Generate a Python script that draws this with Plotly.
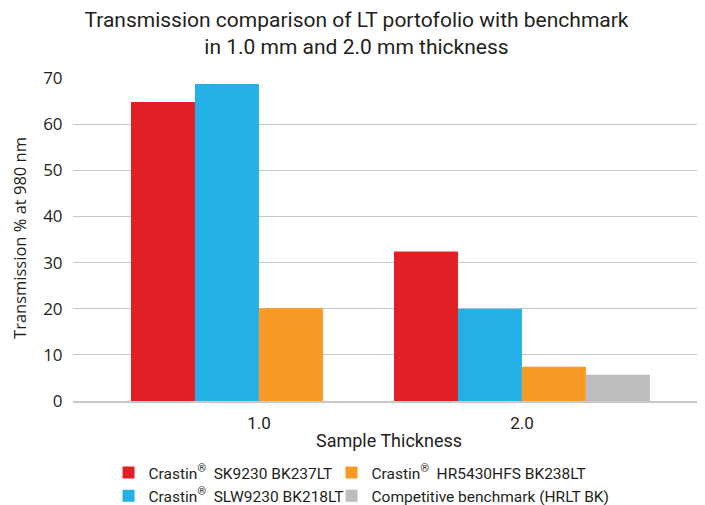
import plotly.graph_objects as go

categories = ["1.0", "2.0"]
series_names = [
    "Crastin<sup>®</sup>  SK9230 BK237LT",
    "Crastin<sup>®</sup>  SLW9230 BK218LT",
    "Crastin<sup>®</sup>  HR5430HFS BK238LT",
    "Competitive benchmark (HRLT BK)",
]
sk9230 = [64.8, 32.4]
slw9230 = [68.7, 20.0]
hr5430 = [20.1, 7.4]
benchmark = [0.0, 5.7]
series_values = [sk9230, slw9230, hr5430, benchmark]
colors = ["#E31F26", "#25B1E6", "#F99A25", "#BCBDBF"]
legend_ids = ["legend", "legend", "legend2", "legend2"]
y_ticks = [0, 10, 20, 30, 40, 50, 60, 70]
y_title = "Transmission % at 980 nm"

font_main = "Open Sans, Noto Sans, sans-serif"
font_narrow = "Roboto, sans-serif"
txt = "#231F20"

fig = go.Figure()
for i, (name, vals, col, lg) in enumerate(zip(series_names, series_values, colors, legend_ids)):
    fig.add_trace(go.Bar(
        x=categories, y=vals, name=name, marker=dict(color=col, line=dict(width=0)),
        legend=lg, legendgroup=f"g{i}",
    ))

legend_font = dict(family=font_narrow, size=15.5, color=txt)

fig.update_layout(
    width=705, height=505,
    barmode="group", bargap=0.027, bargroupgap=0,
    plot_bgcolor="white", paper_bgcolor="white",
    margin=dict(l=65, r=8, t=70, b=112, autoexpand=False),
    title=dict(
        text="Transmission comparison of LT portofolio with benchmark<br>in 1.0 mm and 2.0 mm thickness",
        x=0.4943, xanchor="center", xref="container", y=0.9624, yanchor="middle", yref="container",
        font=dict(family=font_narrow, size=21, color=txt),
    ),
    font=dict(family=font_main, color=txt),
    legend=dict(
        x=0.1426, xanchor="left", xref="container",
        y=0.0565, yanchor="middle", yref="container",
        font=legend_font, bgcolor="rgba(0,0,0,0)", traceorder="grouped", tracegroupgap=0,
    ),
    legend2=dict(
        x=0.4589, xanchor="left", xref="container",
        y=0.0565, yanchor="middle", yref="container",
        font=legend_font, bgcolor="rgba(0,0,0,0)", traceorder="grouped", tracegroupgap=0,
    ),
    xaxis=dict(
        type="category", range=[-0.707, 1.696], automargin=False,
        showline=True, linecolor="#C8C8C8", linewidth=1.5,
        ticks="outside", ticklen=6, tickcolor="rgba(0,0,0,0)",
        tickfont=dict(family=font_narrow, size=17, color=txt),
        title=dict(text="Sample Thickness", font=dict(family=font_narrow, size=18, color=txt), standoff=2),
    ),
    yaxis=dict(
        range=[0, 70], tickvals=y_ticks, automargin=False,
        showgrid=True, gridcolor="#C8C8C8", gridwidth=1,
        zeroline=False, ticks="outside", ticklen=6, tickcolor="rgba(0,0,0,0)",
        tickfont=dict(family=font_main, size=17, color=txt),
    ),
    annotations=[dict(
        text=y_title, textangle=-90, showarrow=False,
        xref="paper", yref="paper", x=-0.0838, y=0.505, xanchor="center", yanchor="middle",
        font=dict(family=font_main, size=16.5, color=txt),
    )],
)

fig.write_html("out.html", config={"displayModeBar": False})
